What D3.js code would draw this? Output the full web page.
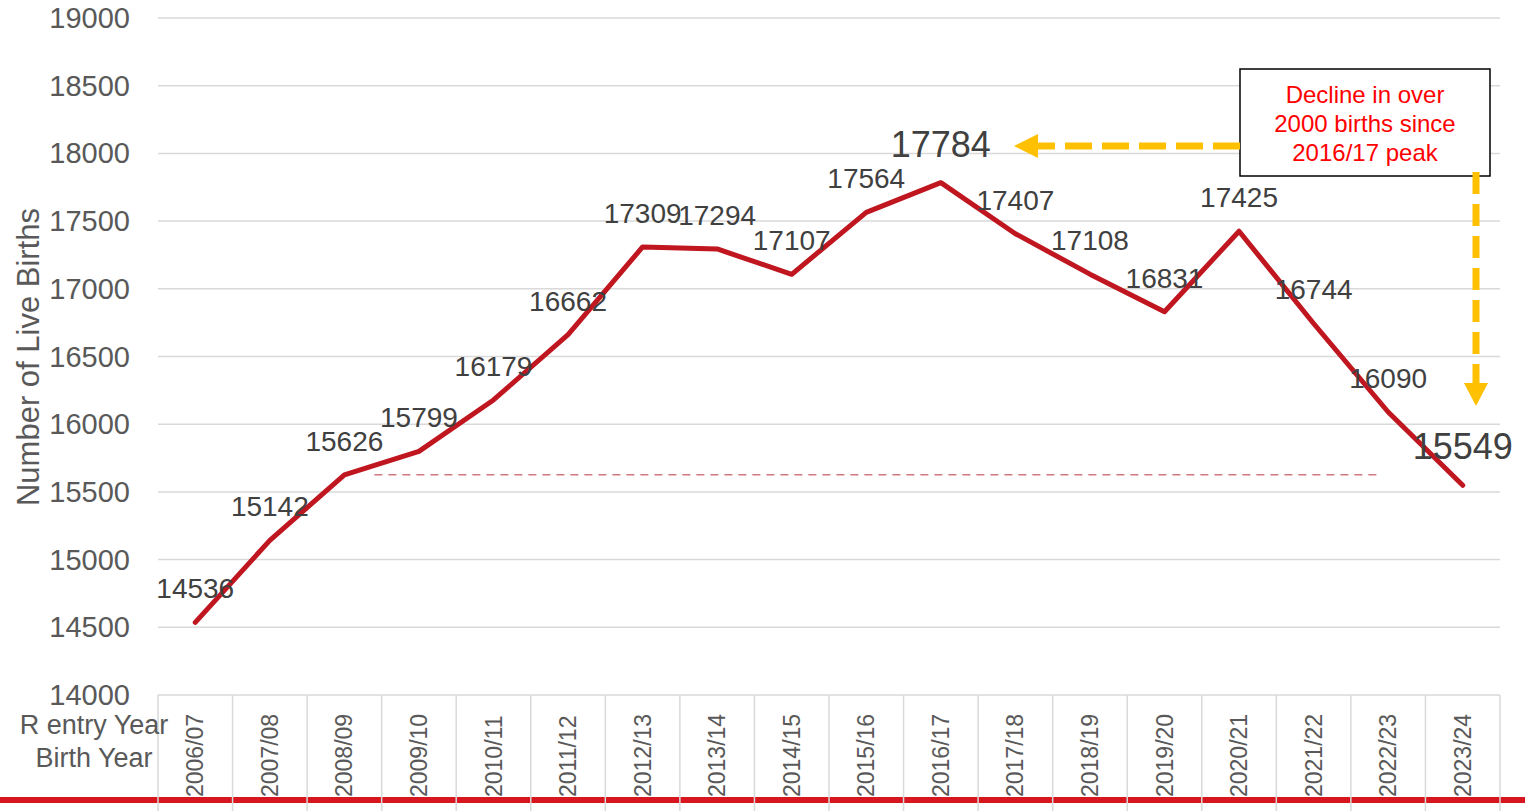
<!DOCTYPE html>
<html>
<head>
<meta charset="utf-8">
<script src="https://cdn.jsdelivr.net/npm/d3@7"></script>
<style>
  body { margin: 0; background: #fff; }
  text { font-family: "Liberation Sans", Arial, sans-serif; }
</style>
</head>
<body>
<div id="chart"></div>
<script>
var width = 1525,
    height = 811;

// data
var years = ["2006/07","2007/08","2008/09","2009/10","2010/11","2011/12","2012/13","2013/14","2014/15",
             "2015/16","2016/17","2017/18","2018/19","2019/20","2020/21","2021/22","2022/23","2023/24"];
var births = [14536,15142,15626,15799,16179,16662,17309,17294,17107,17564,17784,17407,17108,16831,17425,16744,16090,15549];
var yTicks = [14000,14500,15000,15500,16000,16500,17000,17500,18000,18500,19000];
var bigLabels = ["2016/17","2023/24"];
var refValue = 15626;

var plotLeft = 158, plotRight = 1500, plotTop = 18, plotBottom = 695;

var svg = d3.select("#chart")
    .append("svg")
    .attr("width", width)
    .attr("height", height);

var x = d3.scaleBand().domain(years).range([plotLeft, plotRight]);
var y = d3.scaleLinear().domain([14000, 19000]).range([plotBottom, plotTop]);
var cx = function(d) { return x(d) + x.bandwidth() / 2; };

/* gridlines + y labels */
svg.append("g").selectAll("line")
    .data(yTicks)
    .enter().append("line")
    .attr("x1", plotLeft).attr("x2", plotRight)
    .attr("y1", function(d) { return y(d); })
    .attr("y2", function(d) { return y(d); })
    .style("stroke", "#d9d9d9")
    .style("stroke-width", 1.5);

svg.append("g").selectAll("text")
    .data(yTicks)
    .enter().append("text")
    .attr("x", 130)
    .attr("y", function(d) { return y(d) + 10; })
    .attr("text-anchor", "end")
    .style("font-size", "29px")
    .style("fill", "#595959")
    .text(function(d) { return d; });

svg.append("text")
    .attr("transform", "translate(39,357) rotate(-90)")
    .attr("text-anchor", "middle")
    .style("font-size", "31px")
    .style("fill", "#595959")
    .text("Number of Live Births");

/* bottom red band */
svg.append("rect")
    .attr("x", 0).attr("y", 797)
    .attr("width", width).attr("height", 6)
    .style("fill", "#d7161f");

/* category table lines */
var bounds = years.map(function(d) { return x(d); }).concat([plotRight]);
svg.append("g").selectAll("line")
    .data(bounds)
    .enter().append("line")
    .attr("x1", function(d) { return d; })
    .attr("x2", function(d) { return d; })
    .attr("y1", plotBottom).attr("y2", height)
    .style("stroke", "#d9d9d9")
    .style("stroke-width", 1.5);

svg.append("g").selectAll("text")
    .data(years)
    .enter().append("text")
    .attr("transform", function(d) { return "translate(" + (cx(d) + 8) + ",797) rotate(-90)"; })
    .attr("text-anchor", "start")
    .style("font-size", "23px")
    .style("fill", "#595959")
    .text(function(d) { return d; });

svg.append("text")
    .attr("x", 94).attr("y", 734)
    .attr("text-anchor", "middle")
    .style("font-size", "27px")
    .style("fill", "#595959")
    .text("R entry Year");
svg.append("text")
    .attr("x", 94).attr("y", 767)
    .attr("text-anchor", "middle")
    .style("font-size", "27px")
    .style("fill", "#595959")
    .text("Birth Year");

/* reference dashed line at 2008/09 level */
svg.append("line")
    .attr("x1", cx("2008/09") + 30).attr("x2", cx("2022/23") - 10)
    .attr("y1", y(refValue)).attr("y2", y(refValue))
    .style("stroke", "#d07880")
    .style("stroke-width", 1.5)
    .style("stroke-dasharray", "8,6");

/* main line */
var line = d3.line()
    .x(function(d, i) { return cx(years[i]); })
    .y(function(d) { return y(d); });

svg.append("path")
    .datum(births)
    .attr("d", line)
    .style("fill", "none")
    .style("stroke", "#c0161f")
    .style("stroke-width", 5)
    .style("stroke-linejoin", "round")
    .style("stroke-linecap", "round");

/* data labels */
svg.append("g").selectAll("text")
    .data(births)
    .enter().append("text")
    .attr("x", function(d, i) { return cx(years[i]); })
    .attr("y", function(d, i) { return y(d) - (bigLabels.indexOf(years[i]) >= 0 ? 26 : 24); })
    .attr("text-anchor", "middle")
    .style("font-size", function(d, i) { return bigLabels.indexOf(years[i]) >= 0 ? "36px" : "28px"; })
    .style("fill", "#404040")
    .text(function(d) { return d; });

/* annotation box */
svg.append("rect")
    .attr("x", 1240).attr("y", 69)
    .attr("width", 250).attr("height", 107)
    .style("fill", "#fff")
    .style("stroke", "#000")
    .style("stroke-width", 1.5);

var note = ["Decline in over", "2000 births since", "2016/17 peak"];
svg.append("g").selectAll("text")
    .data(note)
    .enter().append("text")
    .attr("x", 1365)
    .attr("y", function(d, i) { return 103 + i * 29; })
    .attr("text-anchor", "middle")
    .style("font-size", "24px")
    .style("fill", "#ff0000")
    .text(function(d) { return d; });

/* yellow arrows */
var yellow = "#ffc000";
var peakY = 146;
svg.append("line")
    .attr("x1", 1240).attr("x2", 1038)
    .attr("y1", peakY).attr("y2", peakY)
    .style("stroke", yellow)
    .style("stroke-width", 7)
    .style("stroke-dasharray", "27,10");
svg.append("path")
    .attr("d", "M1014," + peakY + " L1038," + (peakY - 12) + " L1038," + (peakY + 12) + " Z")
    .style("fill", yellow);

var ax = 1476;
svg.append("line")
    .attr("x1", ax).attr("x2", ax)
    .attr("y1", 172).attr("y2", 383)
    .style("stroke", yellow)
    .style("stroke-width", 7)
    .style("stroke-dasharray", "22,10");
svg.append("path")
    .attr("d", "M" + ax + ",406 L" + (ax - 12) + ",383 L" + (ax + 12) + ",383 Z")
    .style("fill", yellow);
</script>
</body>
</html>
